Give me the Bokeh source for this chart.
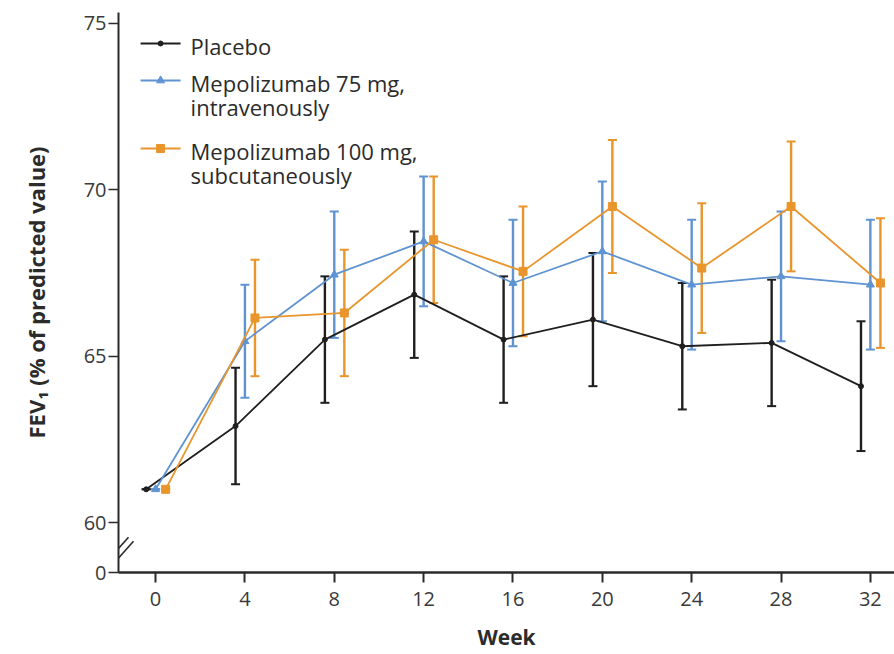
from bokeh.plotting import figure
from bokeh.models import (ColumnDataSource, Whisker, TeeHead, FixedTicker, Range1d)
from bokeh.core.properties import value
from bokeh.embed import file_html
from bokeh.resources import INLINE

# ---------------- data ----------------
weeks = [0, 4, 8, 12, 16, 20, 24, 28, 32]

placebo_mean = [61.0, 62.9, 65.5, 66.85, 65.5, 66.1, 65.3, 65.4, 64.1]
placebo_se = [0.0, 1.75, 1.9, 1.9, 1.9, 2.0, 1.9, 1.9, 1.95]

iv75_mean = [61.0, 65.45, 67.45, 68.45, 67.2, 68.15, 67.15, 67.4, 67.15]
iv75_se = [0.0, 1.7, 1.9, 1.95, 1.9, 2.1, 1.95, 1.95, 1.95]

sc100_mean = [61.0, 66.15, 66.3, 68.5, 67.55, 69.5, 67.65, 69.5, 67.2]
sc100_se = [0.0, 1.75, 1.9, 1.9, 1.95, 2.0, 1.95, 1.95, 1.95]

series_labels = ["Placebo",
                 "Mepolizumab 75 mg,\nintravenously",
                 "Mepolizumab 100 mg,\nsubcutaneously"]

x_ticks = weeks
y_ticks = [60, 65, 70, 75]

# ---------------- style ----------------
FONT = "Open Sans"
TXT = "#2b2b2b"
colors = ["#1f1f1f", "#5f93d1", "#e8952c"]
offsets = [-0.42, 0.0, 0.45]
markers = ["circle", "triangle", "square"]
msizes = [5, 8, 8]

Y_BREAK = 58.5      # position where the broken axis shows "0"
X0, X1 = -1.66, 33.08
Y1 = 75.33

p = figure(width=894, height=654, output_backend="svg", toolbar_location=None,
           x_range=Range1d(X0, X1), y_range=Range1d(Y_BREAK, Y1),
           min_border_left=118, min_border_right=0, min_border_top=12,
           min_border_bottom=82)
p.outline_line_color = None
p.grid.visible = False
p.background_fill_color = "white"

# axes
for ax in (p.xaxis[0], p.yaxis[0]):
    ax.axis_line_color = "#2a2a2a"
    ax.major_tick_line_color = "#2a2a2a"
    ax.minor_tick_line_color = None
    ax.major_tick_in = 0
    ax.major_label_text_font = FONT
    ax.major_label_text_font_size = "20px"
    ax.major_label_text_color = "#3a3a3a"
p.xaxis.axis_line_width = 2.5
p.xaxis.major_tick_line_width = 2
p.xaxis.major_tick_out = 10
p.xaxis.major_label_standoff = 9
p.xaxis.ticker = FixedTicker(ticks=x_ticks)
p.xaxis.axis_label = "Week"
p.xaxis.axis_label_text_font = FONT
p.xaxis.axis_label_text_font_style = "bold"
p.xaxis.axis_label_text_font_size = "21px"
p.xaxis.axis_label_text_color = TXT
p.xaxis.axis_label_standoff = 14

p.yaxis.axis_line_width = 2
p.yaxis.major_tick_line_width = 1.5
p.yaxis.major_tick_out = 10
p.yaxis.major_label_standoff = 2
p.yaxis.ticker = FixedTicker(ticks=[Y_BREAK] + y_ticks)
p.yaxis.major_label_overrides = {Y_BREAK: "0"}
p.yaxis.axis_label = "FEV\u2081 (% of predicted value)"
p.yaxis.axis_label_text_font = FONT
p.yaxis.axis_label_text_font_style = "bold"
p.yaxis.axis_label_text_font_size = "22px"
p.yaxis.axis_label_text_color = TXT
p.yaxis.axis_label_standoff = 30

px_per_wk = 776 / (X1 - X0)
px_per_unit = 560 / (Y1 - Y_BREAK)

def dx(px):
    return px / px_per_wk

def dy(px):
    return px / px_per_unit

# axis break marks ("//" on the y axis between 0 and 60)
brk_y = 59.2
p.segment(x0=[X0 - dx(6), X0 - dx(1)], y0=[brk_y - dy(6), brk_y - dy(10)],
          x1=[X0 + dx(10), X0 + dx(15)], y1=[brk_y + dy(12), brk_y + dy(8)],
          line_color="#2a2a2a", line_width=1.6)

# ---------------- series ----------------
all_means = [placebo_mean, iv75_mean, sc100_mean]
all_se = [placebo_se, iv75_se, sc100_se]
for mean, se, c, off, mk, ms in zip(all_means, all_se, colors, offsets, markers, msizes):
    xs = [w + off for w in weeks]
    src = ColumnDataSource(dict(x=xs, y=mean,
                                lo=[m - s for m, s in zip(mean, se)],
                                hi=[m + s for m, s in zip(mean, se)]))
    w = Whisker(source=src, base="x", lower="lo", upper="hi",
                line_color=c, line_width=2.4,
                upper_head=TeeHead(size=9, line_color=c, line_width=2),
                lower_head=TeeHead(size=9, line_color=c, line_width=2))
    p.add_layout(w)
    p.line("x", "y", source=src, line_color=c, line_width=1.8)
    p.scatter("x", "y", source=src, marker=mk, size=ms, fill_color=c, line_color=c)

# ---------------- legend (drawn manually to allow 2-line labels) ----------------
leg_x0, leg_x1 = 0 - dx(15), 0 + dx(25)
leg_mx = 0 + dx(5)
leg_tx = 0 + dx(35)
row_y = [Y1 - dy(43 - 12), Y1 - dy(80 - 12), Y1 - dy(148 - 12)]
line_gap = dy(24)
for lab, c, mk, ms, ry in zip(series_labels, colors, markers, msizes, row_y):
    p.line([leg_x0, leg_x1], [ry, ry], line_color=c, line_width=1.8)
    p.scatter([leg_mx], [ry], marker=mk, size=ms, fill_color=c, line_color=c)
    lines = lab.split("\n")
    p.text(x=[leg_tx] * len(lines),
           y=[ry - dy(2) - i * line_gap for i in range(len(lines))],
           text=lines, text_font=value(FONT), text_font_size="22px",
           text_color=TXT, text_baseline="middle", text_align="left")

open("out.html", "w").write(file_html(p, INLINE))
